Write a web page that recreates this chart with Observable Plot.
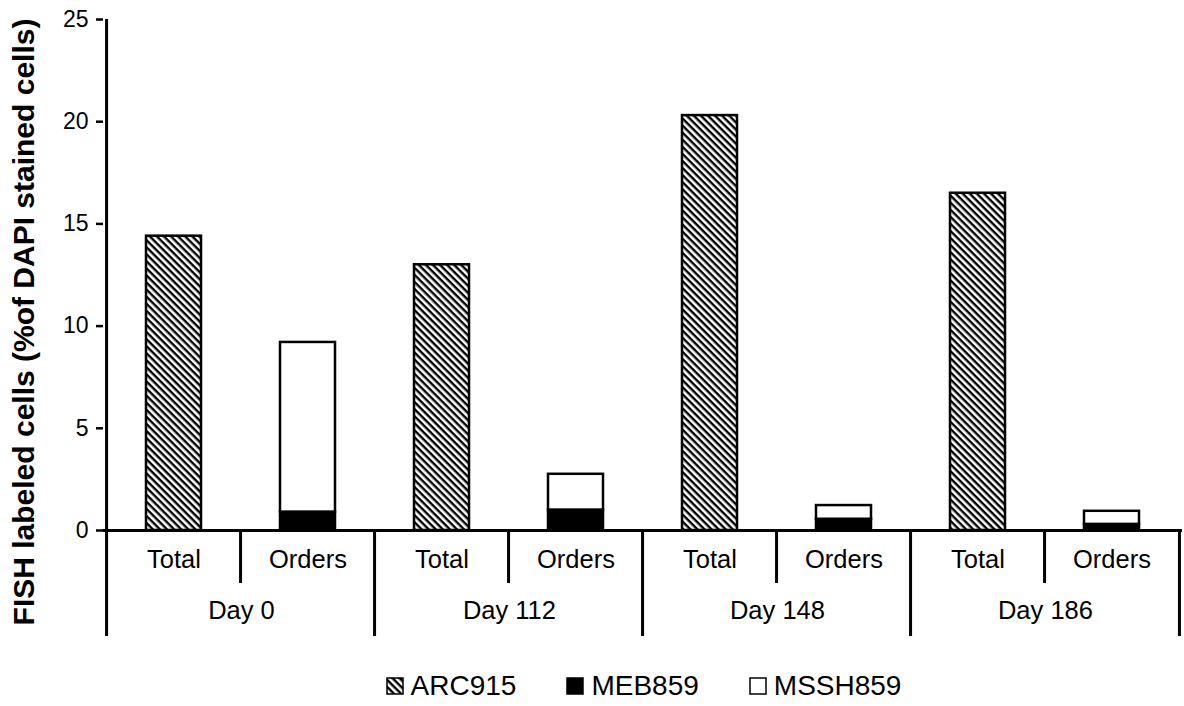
<!DOCTYPE html>
<html><head><meta charset="utf-8">
<script src="https://cdn.jsdelivr.net/npm/d3@7"></script>
<script src="https://cdn.jsdelivr.net/npm/@observablehq/plot@0.6"></script>
<style>
body{margin:0;background:#fff;font-family:"Liberation Sans",Arial,sans-serif;}
#chart svg{display:block}
#chart g[aria-label="y-axis tick label"] text{font-size:23px !important}
#legend{display:flex;justify-content:center;align-items:center;height:40px;font-size:28px;color:#000;gap:50px;padding-left:103px}
#legend .item{display:flex;align-items:center}
#legend svg{display:block;margin-right:7px}
</style></head><body><div id="chart"></div><div id="legend"></div>
<script>
const groups = ["Day 0", "Day 112", "Day 148", "Day 186"];
const subs = ["Total", "Orders"];
const seriesNames = ["ARC915", "MEB859", "MSSH859"];
const arc915 = [14.4, 13.0, 20.3, 16.5];   // Total bars
const meb859 = [0.9, 1.0, 0.55, 0.3];      // Orders bars, bottom
const mssh859 = [8.3, 1.75, 0.67, 0.64];   // Orders bars, top
const yTicks = [0, 5, 10, 15, 20, 25];
const yTitle = "FISH labeled cells (%of DAPI stained cells)";

const keys = groups.flatMap(g => subs.map(s => g + "|" + s));
const rows = [];
groups.forEach((g, i) => {
  rows.push({key: g + "|Total", series: "ARC915", value: arc915[i]});
  rows.push({key: g + "|Orders", series: "MEB859", value: meb859[i]});
  rows.push({key: g + "|Orders", series: "MSSH859", value: mssh859[i]});
});
const fills = ["url(#hatch)", "#000", "#fff"];

const W = 1184, H = 666, mL = 103, mR = 2, mT = 19, mB = 136;
const innerH = H - mT - mB;
const step = (W - mL - mR) / keys.length;
const lw = 3;

const svg = Plot.plot({
  width: W, height: H,
  marginLeft: mL, marginRight: mR, marginTop: mT, marginBottom: mB,
  style: {fontFamily: '"Liberation Sans", Arial, sans-serif', fontSize: "22px", color: "#000", background: "#fff", overflow: "visible"},
  x: {type: "band", domain: keys, paddingInner: 0.59, paddingOuter: 0.295, axis: null},
  y: {domain: [0, 25], axis: null},
  color: {type: "ordinal", domain: seriesNames, range: fills},
  marks: [
    Plot.barY(rows, {x: "key", y: "value", fill: "series", stroke: "#000", strokeWidth: 2.5}),
    Plot.axisY({ticks: yTicks, tickSize: 7, tickPadding: 8, fontSize: 23, strokeWidth: 2.5, label: null}),
    Plot.ruleY([0], {strokeWidth: lw}),
    Plot.ruleX([keys[0]], {x: d => d, dx: -step / 2, insetBottom: -106, strokeWidth: lw}),
    Plot.ruleX(groups.slice(1).map(g => g + "|Total"), {x: d => d, dx: -step / 2, insetTop: innerH, insetBottom: -106, strokeWidth: lw}),
    Plot.ruleX([keys[keys.length - 1]], {x: d => d, dx: step / 2, insetTop: innerH, insetBottom: -106, strokeWidth: lw}),
    Plot.ruleX(groups.map(g => g + "|Orders"), {x: d => d, dx: -step / 2, insetTop: innerH, insetBottom: -53, strokeWidth: lw}),
    Plot.text(keys, {x: d => d, frameAnchor: "bottom", dy: 37, text: d => d.split("|")[1], fontSize: 25.5, fill: "#000"}),
    Plot.text(groups, {x: g => g + "|Total", frameAnchor: "bottom", dx: step / 2, dy: 88, text: d => d, fontSize: 25.5, fill: "#000"}),
    Plot.text([yTitle], {frameAnchor: "left", textAnchor: "middle", rotate: -90, dx: -79, dy: 47, text: d => d, fontSize: 30, fontWeight: "bold", fill: "#000"})
  ]
});

const hatchDef = id => `<pattern id="${id}" patternUnits="userSpaceOnUse" width="5" height="5" patternTransform="rotate(45)"><rect width="5" height="5" fill="#fff"/><rect width="5" height="2.4" fill="#000"/></pattern>`;
d3.select(svg).insert("defs", ":first-child").html(hatchDef("hatch"));
document.getElementById("chart").appendChild(svg);

const legend = d3.select("#legend");
seriesNames.forEach((s, i) => {
  const item = legend.append("div").attr("class", "item");
  const sw = item.append("svg").attr("width", 18).attr("height", 18);
  sw.append("defs").html(hatchDef("hatchL"));
  sw.append("rect").attr("x", 1).attr("y", 1).attr("width", 16).attr("height", 16)
    .attr("fill", i === 0 ? "url(#hatchL)" : fills[i]).attr("stroke", "#000").attr("stroke-width", 1.5);
  item.append("span").text(s);
});
</script>
</body></html>
